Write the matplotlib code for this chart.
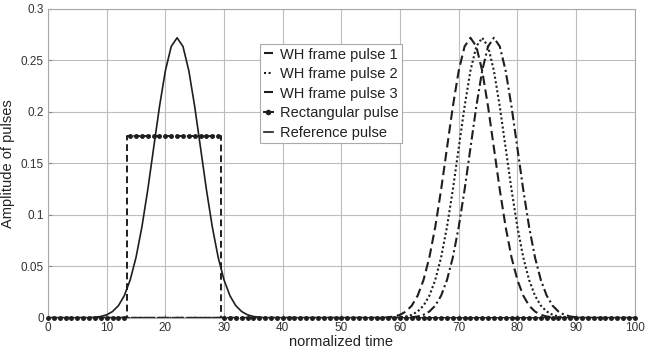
import numpy as np
import matplotlib
matplotlib.use('Agg')
import matplotlib.pyplot as plt
from matplotlib.lines import Line2D

plt.rcParams['font.family'] = ['Liberation Sans', 'DejaVu Sans']

# sample grid (normalized time)
t = np.arange(0, 101)

# pulse values (nonzero part only, starting index given)
ref_start = 8
ref_vals = [0.0006, 0.0014, 0.0030, 0.0062, 0.0119, 0.0216, 0.0368, 0.0588,
            0.0883, 0.1245, 0.1650, 0.2053, 0.2400, 0.2636, 0.2720, 0.2636,
            0.2400, 0.2053, 0.1650, 0.1245, 0.0883, 0.0588, 0.0368, 0.0216,
            0.0119, 0.0062, 0.0030, 0.0014, 0.0006]

wh1_start = 58
wh1_vals = [0.0006, 0.0014, 0.0030, 0.0062, 0.0119, 0.0216, 0.0368, 0.0588,
            0.0883, 0.1245, 0.1650, 0.2053, 0.2400, 0.2636, 0.2720, 0.2636,
            0.2400, 0.2053, 0.1650, 0.1245, 0.0883, 0.0588, 0.0368, 0.0216,
            0.0119, 0.0062, 0.0030, 0.0014, 0.0006]

wh2_start = 60
wh2_vals = [0.0006, 0.0014, 0.0030, 0.0062, 0.0119, 0.0216, 0.0368, 0.0588,
            0.0883, 0.1245, 0.1650, 0.2053, 0.2400, 0.2636, 0.2720, 0.2636,
            0.2400, 0.2053, 0.1650, 0.1245, 0.0883, 0.0588, 0.0368, 0.0216,
            0.0119, 0.0062, 0.0030, 0.0014, 0.0006]

wh3_start = 62
wh3_vals = [0.0006, 0.0014, 0.0030, 0.0062, 0.0119, 0.0216, 0.0368, 0.0588,
            0.0883, 0.1245, 0.1650, 0.2053, 0.2400, 0.2636, 0.2720, 0.2636,
            0.2400, 0.2053, 0.1650, 0.1245, 0.0883, 0.0588, 0.0368, 0.0216,
            0.0119, 0.0062, 0.0030, 0.0014, 0.0006]

rect_start = 14
rect_vals = [0.177] * 16

labels = ['WH frame pulse 1', 'WH frame pulse 2', 'WH frame pulse 3',
          'Rectangular pulse', 'Reference pulse']
yticks = [0, 0.05, 0.1, 0.15, 0.2, 0.25, 0.3]
ytick_labels = ['0', '0.05', '0.1', '0.15', '0.2', '0.25', '0.3']
xticks = list(range(0, 101, 10))


def full(start, vals):
    y = np.zeros(len(t))
    y[start:start + len(vals)] = vals
    return y


ink = '#1e1e1e'
grey = '#bdbdbd'

fig = plt.figure(figsize=(6.49, 3.58), dpi=100)
ax = fig.add_axes([0.074, 0.112, 0.904, 0.863])

ax.plot(t, full(wh1_start, wh1_vals), color=ink, lw=1.5, dashes=(4.5, 2.2),
        label=labels[0])
ax.plot(t, full(wh2_start, wh2_vals), color=ink, lw=1.5, dashes=(1.0, 1.2),
        label=labels[1])
ax.plot(t, full(wh3_start, wh3_vals), color=ink, lw=1.5,
        dashes=(4.5, 1.6, 1.0, 1.6), label=labels[2])
ax.plot(t, full(rect_start, rect_vals), color=ink, lw=1.4, dashes=(3.5, 2.0),
        drawstyle='steps-mid', label=labels[3])
ax.plot(t, full(rect_start, rect_vals), color=ink, lw=0, marker='.',
        markersize=5, clip_on=False, zorder=5)
ax.plot(t, full(ref_start, ref_vals), color=ink, lw=1.2, label=labels[4])

ax.set_xlim(0, 100)
ax.set_ylim(0, 0.3)
ax.set_xticks(xticks)
ax.set_yticks(yticks)
ax.set_yticklabels(ytick_labels)
ax.grid(True, color=grey, lw=0.8)
for s in ax.spines.values():
    s.set_color('#a8a8a8')
    s.set_linewidth(0.8)
ax.tick_params(direction='in', length=3, color='#888888', labelsize=8.5,
               labelcolor='#333333', pad=3)

ax.set_xlabel('normalized time', fontsize=10.5, color='#222222', labelpad=1)
ax.set_ylabel('Amplitude of pulses', fontsize=10.5, color='#222222', labelpad=4)

handles, labs = ax.get_legend_handles_labels()
handles[3] = Line2D([], [], color=ink, lw=1.4, marker='.', markersize=6)
leg = ax.legend(handles, labs, loc='upper left', bbox_to_anchor=(0.362, 0.887),
                borderaxespad=0, fontsize=10.5, handlelength=0.6,
                handletextpad=0.5, labelspacing=0.38, borderpad=0.25,
                fancybox=False, framealpha=1, edgecolor='#aaaaaa')
leg.get_frame().set_linewidth(0.8)
for txt in leg.get_texts():
    txt.set_color('#222222')

fig.savefig('out.png', dpi=100)
